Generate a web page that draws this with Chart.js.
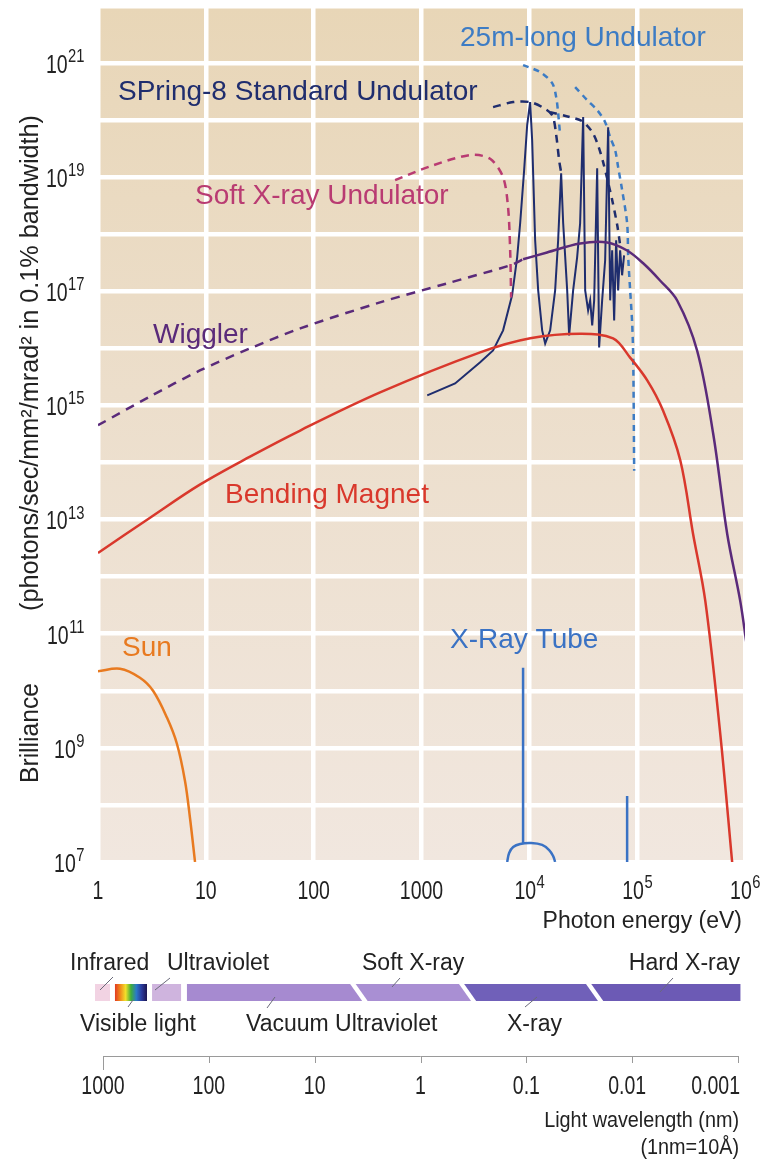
<!DOCTYPE html>
<html>
<head>
<meta charset="utf-8">
<script src="https://cdn.jsdelivr.net/npm/chart.js@4.4.1/dist/chart.umd.min.js"></script>
<style>
  html, body { margin: 0; padding: 0; background: #fff; }
  canvas { display: block; }
</style>
</head>
<body>
<canvas id="chart" width="760" height="1162"></canvas>
<script>
// --- axes ---
const energyTicks = [1, 10, 100, 1000, 1e4, 1e5, 1e6];
const energyLabels = ['1', '10', '100', '1000', '10^4', '10^5', '10^6'];
const brillianceTicks = [1e7, 1e8, 1e9, 1e10, 1e11, 1e12, 1e13, 1e14, 1e15, 1e16, 1e17, 1e18, 1e19, 1e20, 1e21, 1e22];
const brillianceLabelValues = [1e7, 1e9, 1e11, 1e13, 1e15, 1e17, 1e19, 1e21];
const brillianceLabels = ['10^7', '10^9', '10^11', '10^13', '10^15', '10^17', '10^19', '10^21'];
const wavelengthTicks = [1000, 100, 10, 1, 0.1, 0.01, 0.001];
const wavelengthLabels = ['1000', '100', '10', '1', '0.1', '0.01', '0.001'];

// --- spectrum bands (nm) ---
const bandFrom = [1190, 771, 344, 161, 3.6, 0.34, 0.0214];
const bandTo = [859, 384, 183, 4.06, 0.38, 0.024, 0.00095];
const bandColors = ['#f2d3e3', 'rainbow', '#cfb4de', '#a68ad0', '#a98fd3', '#7060b9', '#6c5ab5'];

// --- series: photon energy (eV) / brilliance ---
const bendingE = [1, 3.04, 8.8, 25.7, 75, 413, 3500, 10200, 29600, 59800, 86000, 124000, 174000, 251000, 330000, 428000, 589000, 760000];
const bendingB = [2.6e12, 1.08e13, 4.1e13, 1.27e14, 3.64e14, 1.69e15, 8.5e15, 1.5e16, 1.8e16, 1.5e16, 6.9e15, 2.75e15, 8.1e14, 1.1e14, 5.6e12, 3.8e11, 1.8e9, 1e7];

const wigglerDashE = [1, 3.04, 8.8, 25.7, 75, 413, 1730, 6640, 8750];
const wigglerDashB = [4.5e14, 1.44e15, 4.1e15, 1.0e16, 2.24e16, 6.4e16, 1.38e17, 2.86e17, 3.64e17];
const wigglerE = [8750, 14600, 29600, 52700, 80700, 113700, 163000, 235000, 360000, 507000, 684000, 902000, 1.03e6];
const wigglerB = [3.64e17, 4.8e17, 6.9e17, 7.2e17, 5.2e17, 3.1e17, 1.55e17, 6.9e16, 9.1e15, 3.2e14, 5.6e12, 3.8e11, 6.9e10];

const softE = [569, 1200, 2820, 4330, 5710, 6350, 6640, 6780];
const softB = [8.9e18, 1.55e19, 2.45e19, 2.1e19, 1.0e19, 2.95e18, 5.2e17, 7.8e16];

const springE = [1130, 2050, 3500, 4610, 5710, 6920, 7710, 8220, 8950, 9550, 10170, 10620, 11320, 12080, 13150, 14030, 15600, 17350, 18500, 19720, 20600, 22440, 23400, 25480, 27750, 29580, 31560, 32950, 35090, 36640, 38280, 39920, 42570, 44380, 47340, 50470, 53830, 56200, 58640, 61180, 63830, 66600, 69480, 72490, 75630];
const springB = [1.5e15, 2.43e15, 5.7e15, 9.2e15, 2.07e16, 8.5e16, 3.95e17, 1.56e18, 1.33e19, 8.2e19, 2.07e20, 4.46e19, 7.85e17, 1.04e17, 2.07e16, 1.22e16, 2.07e16, 1.04e17, 7.85e17, 1.17e19, 1.56e18, 1.04e17, 1.69e16, 1.04e17, 3.95e17, 1.56e18, 1.13e20, 1.04e17, 4.64e16, 6.95e16, 2.53e16, 6.95e16, 1.44e19, 1.04e16, 6.95e16, 3.5e17, 7.5e19, 6.95e16, 5.24e17, 3.1e16, 7.85e17, 1.04e17, 5.24e17, 1.91e17, 4.28e17];
const springEnvE = [4610, 7080, 10170, 13150, 16290, 17740, 18880, 19720];
const springEnvB = [1.69e20, 2.07e20, 2.07e20, 1.69e20, 1.22e20, 5.5e19, 2.0e19, 1.22e19];
const springEnv2E = [15600, 23900, 30900, 38280, 43450, 48400, 52700, 58640, 65300, 69500];
const springEnv2B = [1.38e20, 1.13e20, 9.6e19, 6.2e19, 3.6e19, 1.82e19, 9.5e18, 4.0e18, 1.45e18, 6.5e17];

const longE1 = [8750, 12590, 16290, 17740, 18500, 19300];
const longB1 = [9.2e20, 6.95e20, 4.46e20, 2.53e20, 1.33e20, 5.5e19];
const longE2 = [26600, 34400, 42570, 50470, 56200, 62500, 66600, 72600, 80700, 82600, 86100, 89900, 91900, 93800];
const longB2 = [3.8e20, 2.24e20, 1.5e20, 9.2e19, 5.0e19, 2.98e19, 1.5e19, 5.9e18, 1.56e18, 3.95e17, 1.04e17, 2.75e16, 6.95e15, 7.2e13];

const sunE = [1, 1.6, 2.45, 3.24, 4.37, 5.4, 6.41, 7.13, 7.94];
const sunB = [2.2e10, 2.43e10, 1.69e10, 1.0e10, 3.36e9, 1.17e9, 2.63e8, 5.9e7, 1e7];

const tubeLineE = [8750, 8750];
const tubeLineB = [2.54e10, 2.15e7];
const tubeDomeE = [6230, 6500, 7080, 8220, 10400, 13150, 15270, 16630, 17350];
const tubeDomeB = [1e7, 1.44e7, 1.83e7, 2.07e7, 2.15e7, 1.99e7, 1.62e7, 1.27e7, 1e7];
const tubeLine2E = [80700, 80700];
const tubeLine2B = [1.44e8, 1e7];

const FONT = '"Liberation Sans", Arial, Helvetica, sans-serif';

function pts(xs, ys) {
  return xs.map((x, i) => ({x: x, y: ys[i]}));
}

function line(xs, ys, color, width, dash, tension) {
  return {
    data: pts(xs, ys),
    showLine: true,
    borderColor: color,
    borderWidth: width,
    borderDash: dash || [],
    pointRadius: 0,
    tension: tension || 0,
    fill: false
  };
}

function drawText(ctx, s, x, y, size, color, align, squeeze) {
  ctx.save();
  ctx.font = size + 'px ' + FONT;
  ctx.fillStyle = color;
  ctx.textAlign = align || 'left';
  ctx.textBaseline = 'middle';
  ctx.translate(x, y);
  ctx.scale(squeeze || 1, 1);
  ctx.fillText(s, 0, 0);
  ctx.restore();
}

function textWidth(ctx, s, size, squeeze) {
  ctx.save();
  ctx.font = size + 'px ' + FONT;
  const w = ctx.measureText(s).width * (squeeze || 1);
  ctx.restore();
  return w;
}

// "10^4" style labels
function drawPower(ctx, label, x, y, align) {
  const parts = label.split('^');
  const bw = textWidth(ctx, parts[0], 25, 0.78);
  const ew = parts[1] ? textWidth(ctx, parts[1], 18, 0.82) : 0;
  const left = align === 'center' ? x - (bw + ew) / 2 : x - (bw + ew);
  drawText(ctx, parts[0], left, y, 25, '#222', 'left', 0.78);
  if (parts[1]) drawText(ctx, parts[1], left + bw + 0.5, y - 9, 18, '#222', 'left', 0.82);
}

// text squeezed/stretched to a given length
function fitText(ctx, s, cx, cy, width, size, rot) {
  ctx.save();
  ctx.font = size + 'px ' + FONT;
  const sx = width / ctx.measureText(s).width;
  ctx.translate(cx, cy);
  ctx.rotate(rot);
  ctx.scale(sx, 1);
  ctx.fillStyle = '#222';
  ctx.textAlign = 'center';
  ctx.textBaseline = 'middle';
  ctx.fillText(s, 0, 0);
  ctx.restore();
}

const backgroundPlugin = {
  id: 'paper',
  beforeDraw(chart) {
    const {ctx, chartArea: a} = chart;
    const g = ctx.createLinearGradient(0, a.top, 0, a.bottom);
    g.addColorStop(0, '#e8d6b7');
    g.addColorStop(0.45, '#ecdecb');
    g.addColorStop(1, '#f1e7df');
    ctx.save();
    ctx.fillStyle = g;
    ctx.fillRect(a.left, a.top, a.right - a.left, a.bottom - a.top);
    ctx.restore();
  }
};

const annotationPlugin = {
  id: 'annotations',
  afterDraw(chart) {
    const ctx = chart.ctx;
    const xs = chart.scales.x, ys = chart.scales.y, ws = chart.scales.w;

    // tick labels
    brillianceLabels.forEach((l, i) => drawPower(ctx, l, 84, ys.getPixelForValue(brillianceLabelValues[i]) + 3, 'right'));
    energyLabels.forEach((l, i) => drawPower(ctx, l, xs.getPixelForValue(energyTicks[i]), 892, 'center'));

    // y title
    fitText(ctx, 'Brilliance', 31, 733, 100, 25, -Math.PI / 2);
    fitText(ctx, '(photons/sec/mm\u00b2/mrad\u00b2 in 0.1% bandwidth)', 31, 363, 496, 25, -Math.PI / 2);

    // x title
    drawText(ctx, 'Photon energy (eV)', 742, 922, 23, '#222', 'right');

    // series labels
    drawText(ctx, '25m-long Undulator', 460, 38, 28, '#3d7cc4');
    drawText(ctx, 'SPring-8 Standard Undulator', 118, 92, 28, '#1f2d6e');
    drawText(ctx, 'Soft X-ray Undulator', 195, 196, 28, '#b93b72');
    drawText(ctx, 'Wiggler', 153, 335, 28, '#5a2a7a');
    drawText(ctx, 'Bending Magnet', 225, 495, 28, '#d9382c');
    drawText(ctx, 'Sun', 122, 648, 28, '#e87a20');
    drawText(ctx, 'X-Ray Tube', 450, 640, 28, '#3a72c4');

    // spectrum band
    const top = 984, bot = 1001, slant = 6;
    bandFrom.forEach((f, i) => {
      const x0 = ws.getPixelForValue(f), x1 = ws.getPixelForValue(bandTo[i]);
      const sl = i >= 4 ? slant : 0;
      const sr = i >= 3 && i <= 5 ? slant : 0;
      ctx.beginPath();
      ctx.moveTo(x0 - sl, top);
      ctx.lineTo(x1 - sr, top);
      ctx.lineTo(x1 + sr, bot);
      ctx.lineTo(x0 + sl, bot);
      ctx.closePath();
      if (bandColors[i] === 'rainbow') {
        const g = ctx.createLinearGradient(x0, 0, x1, 0);
        ['#e23a22', '#f08a1c', '#f2e02a', '#3fae3a', '#2a7ac8', '#2b3a9c', '#1c1650'].forEach((c, k, arr) => g.addColorStop(k / (arr.length - 1), c));
        ctx.fillStyle = g;
      } else {
        ctx.fillStyle = bandColors[i];
      }
      ctx.fill();
    });

    // leader lines
    ctx.save();
    ctx.strokeStyle = '#6a6a7a';
    ctx.lineWidth = 1;
    [[100, 990, 113, 977], [128, 1007, 133, 1000], [155, 990, 170, 978], [267, 1008, 275, 997],
     [392, 987, 400, 978], [525, 1007, 537, 997], [660, 992, 673, 978]].forEach(l => {
      ctx.beginPath(); ctx.moveTo(l[0], l[1]); ctx.lineTo(l[2], l[3]); ctx.stroke();
    });
    ctx.restore();

    drawText(ctx, 'Infrared', 70, 964, 23, '#222');
    drawText(ctx, 'Ultraviolet', 167, 964, 23, '#222');
    drawText(ctx, 'Soft X-ray', 362, 964, 23, '#222');
    drawText(ctx, 'Hard X-ray', 740, 964, 23, '#222', 'right');
    drawText(ctx, 'Visible light', 80, 1025, 23, '#222');
    drawText(ctx, 'Vacuum Ultraviolet', 246, 1025, 23, '#222');
    drawText(ctx, 'X-ray', 507, 1025, 23, '#222');

    // wavelength axis
    const wl = ws.getPixelForValue(wavelengthTicks[0]);
    const wr = ws.getPixelForValue(wavelengthTicks[wavelengthTicks.length - 1]);
    ctx.save();
    ctx.strokeStyle = '#9a9a9a';
    ctx.lineWidth = 1;
    ctx.beginPath();
    ctx.moveTo(wl, 1056.5); ctx.lineTo(wr, 1056.5);
    wavelengthTicks.forEach((t, i) => {
      const px = Math.round(ws.getPixelForValue(t)) + 0.5;
      ctx.moveTo(px, 1056); ctx.lineTo(px, i === 0 ? 1070 : 1063);
    });
    ctx.stroke();
    ctx.restore();
    wavelengthLabels.forEach((l, i) => {
      const px = ws.getPixelForValue(wavelengthTicks[i]);
      const w = textWidth(ctx, l, 25, 0.78);
      // keep the last labels inside the page edge
      const cx = Math.min(px - (i === 5 ? 5 : 0), 740 - w / 2);
      drawText(ctx, l, cx, 1087, 25, '#222', 'center', 0.78);
    });
    drawText(ctx, 'Light wavelength (nm)', 739, 1121, 22, '#222', 'right', 0.9);
    drawText(ctx, '(1nm=10\u00c5)', 739, 1148, 22, '#222', 'right', 0.9);
  }
};

const datasets = [
  line(sunE, sunB, '#e87a20', 2.5, null, 0.35),
  line(bendingE, bendingB, '#d9382c', 2.5, null, 0.35),
  line(wigglerDashE, wigglerDashB, '#5a2a7a', 2.5, [9, 7], 0.3),
  line(wigglerE, wigglerB, '#5a2a7a', 2.5, null, 0.35),
  line(softE, softB, '#b93b72', 2.5, [8, 6], 0.3),
  line(springE, springB, '#1f2d6e', 2, null, 0),
  line(springEnvE, springEnvB, '#1f2d6e', 2.5, [8, 6], 0.3),
  line(springEnv2E, springEnv2B, '#1f2d6e', 2.5, [7, 6], 0.3),
  line(longE1, longB1, '#3d7cc4', 2.5, [6, 5], 0.3),
  line(longE2, longB2, '#3d7cc4', 2.5, [6, 5], 0.3),
  line(tubeLineE, tubeLineB, '#3a72c4', 2.5, null, 0),
  line(tubeDomeE, tubeDomeB, '#3a72c4', 2.5, null, 0.4),
  line(tubeLine2E, tubeLine2B, '#3a72c4', 2.5, null, 0)
];

new Chart(document.getElementById('chart'), {
  type: 'scatter',
  data: { datasets: datasets },
  options: {
    responsive: false,
    animation: false,
    layout: { padding: { left: 98, right: 15, top: 6, bottom: 300 } },
    plugins: { legend: { display: false }, tooltip: { enabled: false } },
    scales: {
      x: {
        type: 'logarithmic', min: 1, max: 1e6,
        afterBuildTicks: s => { s.ticks = energyTicks.map(v => ({ value: v })); },
        ticks: { display: false },
        grid: { color: '#ffffff', lineWidth: 4.5, drawTicks: false },
        border: { display: false }
      },
      y: {
        type: 'logarithmic', min: 1e7, max: 1e22,
        afterBuildTicks: s => { s.ticks = brillianceTicks.map(v => ({ value: v })); },
        ticks: { display: false },
        grid: { color: '#ffffff', lineWidth: 4.5, drawTicks: false },
        border: { display: false }
      },
      w: {
        type: 'logarithmic', position: 'bottom', reverse: true,
        min: 0.00086, max: 1115, display: false
      }
    }
  },
  plugins: [backgroundPlugin, annotationPlugin]
});
</script>
</body>
</html>
